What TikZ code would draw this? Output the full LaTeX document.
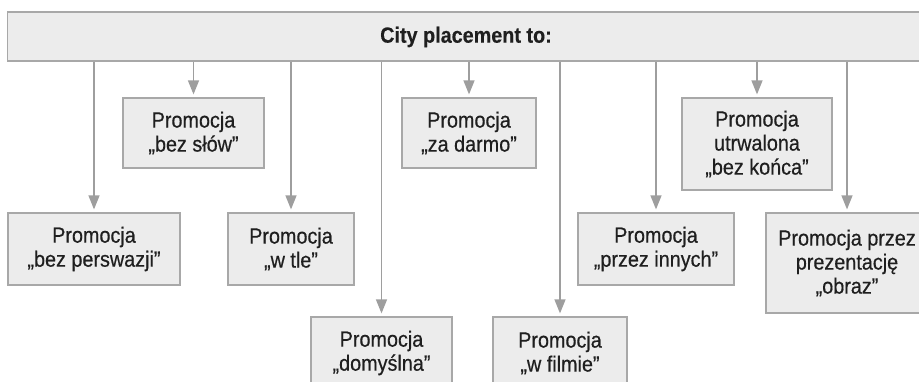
\documentclass[tikz,border=0pt]{standalone}
\usepackage{fontspec}
\setmainfont{Liberation Sans}[FakeStretch=0.9, UprightFeatures={FakeBold=0.5}, BoldFeatures={FakeBold=0.3}]
\usetikzlibrary{arrows.meta}
\definecolor{boxfill}{gray}{0.925}
\definecolor{boxline}{gray}{0.66}
\definecolor{arrline}{gray}{0.62}
\definecolor{txt}{gray}{0.12}
\begin{document}
\begin{tikzpicture}[x=1pt,y=-1pt,
		promo/.style={draw=boxline, fill=boxfill, line width=1.2pt, align=center, inner sep=0pt,
			minimum height=72pt, text=txt, font=\fontsize{22}{24}\selectfont},
		arr/.style={draw=arrline, line width=1.3pt, -{Triangle[length=14pt,width=11pt]}, shorten >=3pt}]
		\useasboundingbox (0,0) rectangle (919,382);
		\clip (0,0) rectangle (919,382);
		\node[promo, minimum height=49pt, minimum width=917pt] (bar) at (466,36.5) {};
		\node[text=txt, font=\fontsize{22}{24}\selectfont\bfseries] (title) at (466,37) {City placement to:};
		\node[promo, minimum width=141pt, minimum height=70pt] (slow) at (193.5,133) {Promocja\\„bez słów”};
		\node[promo, minimum width=134pt, minimum height=70pt] (darmo) at (469,133) {Promocja\\„za darmo”};
		\node[promo, minimum width=150pt, minimum height=92pt] (konca) at (757,144) {Promocja\\utrwalona\\„bez końca”};
		\node[promo, minimum width=172pt] (perswazji) at (94,249) {Promocja\\„bez perswazji”};
		\node[promo, minimum width=126pt] (tle) at (291,249) {Promocja\\„w tle”};
		\node[promo, minimum width=156pt] (innych) at (656,249) {Promocja\\„przez innych”};
		\node[promo, minimum width=162pt, minimum height=100pt] (obraz) at (847,263) {Promocja przez\\prezentację\\„obraz”};
		\node[promo, minimum width=141pt] (domyslna) at (381.5,353) {Promocja\\„domyślna”};
		\node[promo, minimum width=134pt] (filmie) at (560,353) {Promocja\\„w filmie”};
		\draw[arr] (perswazji.north |- bar.south) -- (perswazji.north);
		\draw[arr] (slow.north |- bar.south) -- (slow.north);
		\draw[arr] (tle.north |- bar.south) -- (tle.north);
		\draw[arr] (domyslna.north |- bar.south) -- (domyslna.north);
		\draw[arr] (darmo.north |- bar.south) -- (darmo.north);
		\draw[arr] (filmie.north |- bar.south) -- (filmie.north);
		\draw[arr] (innych.north |- bar.south) -- (innych.north);
		\draw[arr] (konca.north |- bar.south) -- (konca.north);
		\draw[arr] (obraz.north |- bar.south) -- (obraz.north);
	\end{tikzpicture}
\end{document}
